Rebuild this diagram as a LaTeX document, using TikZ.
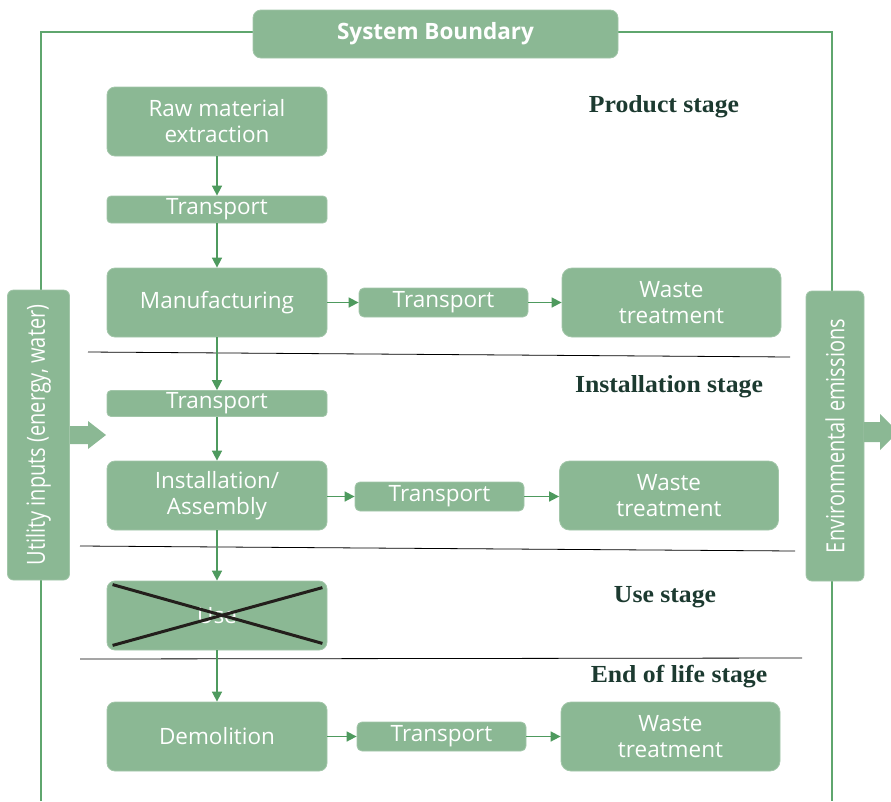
\documentclass[tikz,border=0pt]{standalone}
\usepackage{fontspec}
\setmainfont{Open Sans}
\newfontfamily\serifb{Liberation Serif}[FakeStretch=1.05]
\newfontfamily\condf{Open Sans}[FakeStretch=0.8]
\usetikzlibrary{arrows.meta}
\definecolor{boxg}{HTML}{8BB894}
\definecolor{lineg}{HTML}{5FA66E}
\definecolor{arrg}{HTML}{4E9A5E}
\definecolor{stagec}{HTML}{1C3A30}
\definecolor{crossc}{HTML}{231F1C}
\tikzset{
  box/.style={fill=boxg, draw=boxg!80!white, line width=0.8pt, rounded corners=8pt, text=white, align=center, inner sep=0pt,
    font=\fontsize{22.5}{26}\selectfont},
  bigbox/.style={box, minimum width=220pt, minimum height=69pt},
  tbox/.style={box, minimum width=169pt, minimum height=29pt, rounded corners=5pt},
  vtbox/.style={box, minimum width=220pt, minimum height=27pt, rounded corners=4pt},
  wbox/.style={box, minimum width=219pt, minimum height=69pt, rounded corners=10pt},
  stage/.style={text=stagec, font=\serifb\bfseries\fontsize{24.5}{26}\selectfont, inner sep=0pt},
  vtext/.style={rotate=90, text=white, font=\condf\fontsize{25}{28}\selectfont},
  arr/.style={draw=arrg, line width=1.6pt, -{Triangle[length=10pt, width=10pt]}},
  sep/.style={draw=black, line width=0.8pt},
  bound/.style={draw=lineg, line width=1.8pt},
}
\begin{document}
\begin{tikzpicture}[x=1pt, y=-1pt]
\useasboundingbox (0,0) rectangle (891,801);
% system boundary
\draw[bound] (41,801) -- (41,32) -- (832,32) -- (832,801);
\node[box, minimum width=365pt, minimum height=48pt, font=\bfseries\fontsize{22.5}{24}\selectfont] (sb) at (435.5,34) {System Boundary};

% side boxes
\node[box, minimum width=62pt, minimum height=290pt, rounded corners=6pt] (util) at (38.5,435) {};
\node[vtext] (utilt) at (util.center) {Utility inputs (energy, water)};
\fill[boxg] (70,426) -- (88,426) -- (88,421) -- (106,435) -- (88,449) -- (88,444) -- (70,444) -- cycle;

\node[box, minimum width=58pt, minimum height=290pt, rounded corners=6pt] (env) at (835,436) {};
\node[vtext] (envt) at (env.center) {Environmental emissions};
\fill[boxg] (864,422) -- (880,422) -- (880,414) -- (898,432) -- (880,450) -- (880,442) -- (864,442) -- cycle;

% product stage
\node[bigbox] (raw) at (217,121.5) {Raw material\\extraction};
\node[vtbox] (t1) at (217,209.5) {Transport};
\node[bigbox] (man) at (217,302.5) {Manufacturing};
\node[tbox] (t1r) at (443.5,302.5) {Transport};
\node[wbox] (w1) at (671.5,302.5) {Waste\\treatment};
\node[stage] (ps) at (664,107) {Product stage};

% installation stage
\node[vtbox, minimum height=26pt] (t2) at (217,403.5) {Transport};
\node[bigbox] (ins) at (217,495.5) {Installation/\\Assembly};
\node[tbox] (t2r) at (439.5,496.5) {Transport};
\node[wbox] (w2) at (669,495.5) {Waste\\treatment};
\node[stage] (is) at (669,387) {Installation stage};

% use stage
\node[bigbox] (use) at (217,615.5) {Use};
\node[stage] (us) at (665,597) {Use stage};

% end of life stage
\node[bigbox] (dem) at (217,736.5) {Demolition};
\node[tbox] (t3r) at (441.5,736.5) {Transport};
\node[wbox] (w3) at (670.5,736.5) {Waste\\treatment};
\node[stage] (es) at (679,677) {End of life stage};

% cross on use
\draw[crossc, line width=3pt] ([shift={(6,4)}]use.north west) -- ([shift={(-5,-7)}]use.south east);
\draw[crossc, line width=3pt] ([shift={(6,-5)}]use.south west) -- ([shift={(-5,7)}]use.north east);

% separators
\draw[sep] (88,352) -- (790,357);
\draw[sep] (80,546) -- (795,551);
\draw[sep] (80,659) -- (802,658);

% vertical arrows
\draw[arr] (raw) -- (t1);
\draw[arr] (t1) -- (man);
\draw[arr] (man) -- (t2);
\draw[arr] (t2) -- (ins);
\draw[arr] (ins) -- (use);
\draw[arr] (use) -- (dem);

% horizontal arrows
\draw[arr] (man) -- (t1r);
\draw[arr] (t1r) -- (w1);
\draw[arr] (ins.east |- t2r) -- (t2r);
\draw[arr] (t2r) -- (w2.west |- t2r);
\draw[arr] (dem) -- (t3r);
\draw[arr] (t3r) -- (w3);
\end{tikzpicture}
\end{document}
